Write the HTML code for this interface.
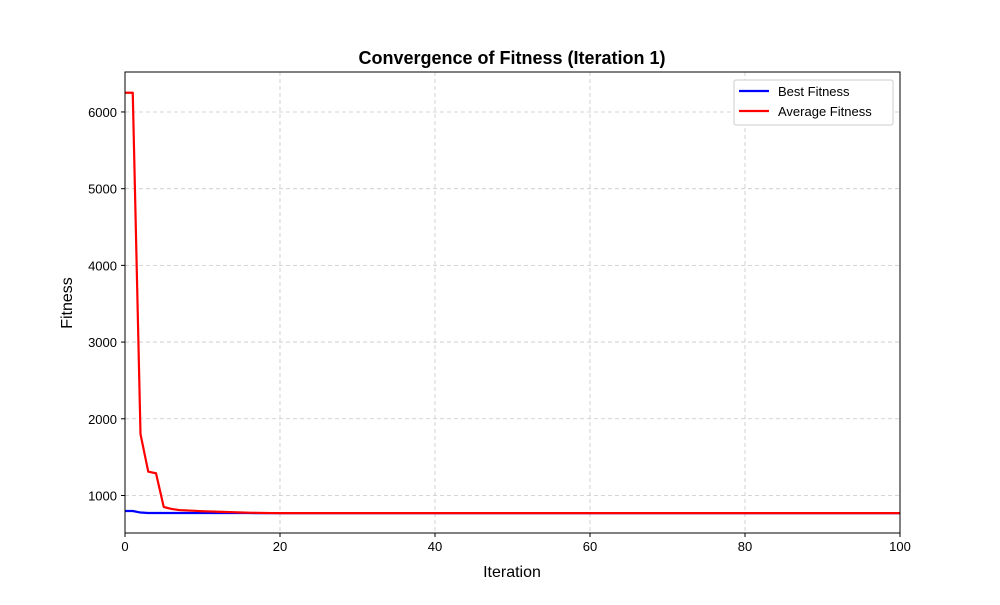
<!DOCTYPE html>
<html><head><meta charset="utf-8"><style>
body{margin:0;background:#fff;font-family:"Liberation Sans",sans-serif}
svg text{font-family:"Liberation Sans",sans-serif}
</style></head><body>
<svg id="chart" width="1000" height="600"></svg>
<script>
const iterations=[];for(let i=0;i<=100;i++)iterations.push(i);
const bestFitness=[798,798,778,772,772,772,772,772,772,772,771,771,771,771,771,771,771,770,770,770,770,770,770,770,770,770,770,770,770,770,770,770,770,770,770,770,770,770,770,770,770,770,770,770,770,770,770,770,770,770,770,770,770,770,770,770,770,770,770,770,770,770,770,770,770,770,770,770,770,770,770,770,770,770,770,770,770,770,770,770,770,770,770,770,770,770,770,770,770,770,770,770,770,770,770,770,770,770,770,770,770];
const avgFitness=[6250,6250,1800,1310,1290,850,825,810,805,800,795,792,788,785,782,778,776,774,772,771,770,770,770,770,770,770,770,770,770,770,770,770,770,770,770,770,770,770,770,770,770,770,770,770,770,770,770,770,770,770,770,770,770,770,770,770,770,770,770,770,770,770,770,770,770,770,770,770,770,770,770,770,770,770,770,770,770,770,770,770,770,770,770,770,770,770,770,770,770,770,770,770,770,770,770,770,770,770,770,770,770];
const xTicks=[0,20,40,60,80,100];
const yTicks=[1000,2000,3000,4000,5000,6000];
const L=125,R=900,T=72,B=533,xMin=0,xMax=100,yMin=511,yMax=6521;
const X=v=>L+(v-xMin)/(xMax-xMin)*(R-L);
const Y=v=>B-(v-yMin)/(yMax-yMin)*(B-T);
const svg=document.getElementById('chart');const NS='http://www.w3.org/2000/svg';
function mk(tag,attrs,parent){const e=document.createElementNS(NS,tag);for(const k in attrs)e.setAttribute(k,attrs[k]);(parent||svg).appendChild(e);return e;}
xTicks.forEach(t=>{
 const g=mk('line',{x1:X(t),x2:X(t),y1:T,y2:B,stroke:'#c8c8c8','stroke-dasharray':'4,3','stroke-width':0.8});
 
 
 const tk=mk('line',{x1:X(t),x2:X(t),y1:B,y2:B+4,stroke:'#000'});
 
 
 const tx=mk('text',{x:X(t),y:B+18,'text-anchor':'middle','font-size':13});tx.textContent=t;
 
 
});
yTicks.forEach(t=>{
 const g=mk('line',{x1:L,x2:R,y1:Y(t),y2:Y(t),stroke:'#c8c8c8','stroke-dasharray':'4,3','stroke-width':0.8});
 
 
 const tk=mk('line',{x1:L-4,x2:L,y1:Y(t),y2:Y(t),stroke:'#000'});
 
 
 const tx=mk('text',{x:L-8,y:Y(t)+5,'text-anchor':'end','font-size':13});tx.textContent=t;
 
 
});
function line(data,color,name){
 const p=mk('polyline',{points:data.map((v,i)=>X(iterations[i])+','+Y(v)).join(' '),fill:'none',stroke:color,'stroke-width':2.2,'stroke-linejoin':'round'});
 
 
}
line(bestFitness,'#0000ff','best-fitness-line');
line(avgFitness,'#ff0000','average-fitness-line');
const fr=mk('rect',{x:L,y:T,width:R-L,height:B-T,fill:'none',stroke:'#000','stroke-width':1});


</script>
<svg width="1000" height="600" style="position:absolute;left:0;top:0">
<text x="512" y="64" text-anchor="middle" font-size="18" font-weight="bold">Convergence of Fitness (Iteration 1)</text>
<text x="512" y="577" text-anchor="middle" font-size="16">Iteration</text>
<text x="72" y="303" text-anchor="middle" font-size="16" transform="rotate(-90 72 303)">Fitness</text>
<g>
<rect x="734" y="80" width="159" height="45" fill="#fff" stroke="#ccc" rx="2"/>
<line x1="739" x2="769" y1="91" y2="91" stroke="#0000ff" stroke-width="2.2"/>
<text x="778" y="96" font-size="13">Best Fitness</text>
<line x1="739" x2="769" y1="111" y2="111" stroke="#ff0000" stroke-width="2.2"/>
<text x="778" y="116" font-size="13">Average Fitness</text>
</g>
</svg>
</body></html>
